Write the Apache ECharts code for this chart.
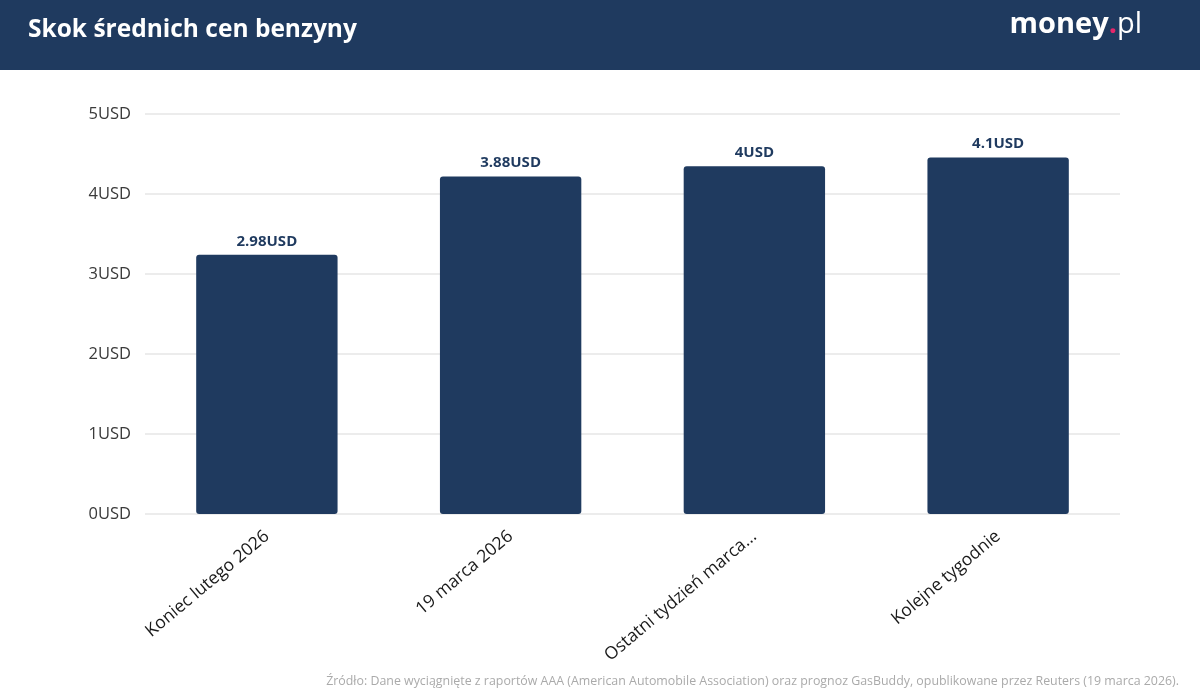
<!DOCTYPE html>
<html>
<head>
<meta charset="utf-8">
<script src="https://cdn.jsdelivr.net/npm/echarts@6/dist/echarts.min.js"></script>
<style>html,body{margin:0;padding:0;background:#fff}#c{width:1200px;height:700px}</style>
</head>
<body>
<div id="c"></div>
<script>
const categories = ["Koniec lutego 2026", "19 marca 2026", "Ostatni tydzień marca...", "Kolejne tygodnie"];
const prices = [2.98, 3.88, 4, 4.1];
const axisTicks = [0, 1, 2, 3, 4, 5];
const titleText = "Skok średnich cen benzyny";
const sourceText = "Źródło: Dane wyciągnięte z raportów AAA (American Automobile Association) oraz prognoz GasBuddy, opublikowane przez Reuters (19 marca 2026).";

const navy = "#1f3a5f";
const chart = echarts.init(document.getElementById('c'));
chart.setOption({
  animation: false,
  backgroundColor: "#fff",
  graphic: [
    { type: 'rect', left: 0, top: 0, shape: { width: 1200, height: 70 }, style: { fill: navy }, z: 0 },
    { type: 'text', left: 28, top: 18, style: { text: titleText, fill: '#fff', font: 'bold 24.5px "Open Sans"' }, z: 1 },
    { type: 'text', right: 58, top: 10, style: {
        text: '{a|money}{b|.}{c|pl}',
        rich: {
          a: { fill: '#fff', font: 'bold 29px "Open Sans"' },
          b: { fill: '#e6266a', font: 'bold 29px "Open Sans"' },
          c: { fill: '#fff', font: '29px "Open Sans"' }
        }
      }, z: 1 },
    { type: 'text', right: 21, top: 675, style: { text: sourceText, fill: '#aaaaaa', font: '12.4px "Open Sans"' }, z: 1 }
  ],
  grid: { left: 145, right: 80, top: 114, bottom: 186, containLabel: false },
  xAxis: {
    type: 'category',
    data: categories,
    axisLine: { show: false },
    axisTick: { show: false },
    axisLabel: { rotate: 40, color: '#1a1a1a', fontSize: 17.5, fontFamily: 'Open Sans', margin: 20, interval: 0 }
  },
  yAxis: [
    {
      type: 'value', min: axisTicks[0], max: axisTicks[axisTicks.length - 1], interval: 1,
      axisLine: { show: false }, axisTick: { show: false },
      axisLabel: { formatter: '{value}USD', color: '#3a3a3a', fontSize: 16.5, fontFamily: 'Open Sans', margin: 14 },
      splitLine: { lineStyle: { color: '#e6e6e6', width: 1.5 } }
    },
    {
      type: 'value', min: 0, max: 4.6, show: false, splitLine: { show: false }
    }
  ],
  series: [{
    type: 'bar',
    yAxisIndex: 1,
    data: prices,
    barWidth: '58%',
    itemStyle: { color: navy, borderRadius: 3 },
    label: {
      show: true, position: 'top', distance: 6,
      formatter: p => p.value + 'USD',
      color: navy, fontWeight: 'bold', fontSize: 15, fontFamily: 'Open Sans'
    }
  }]
});
</script>
</body>
</html>
